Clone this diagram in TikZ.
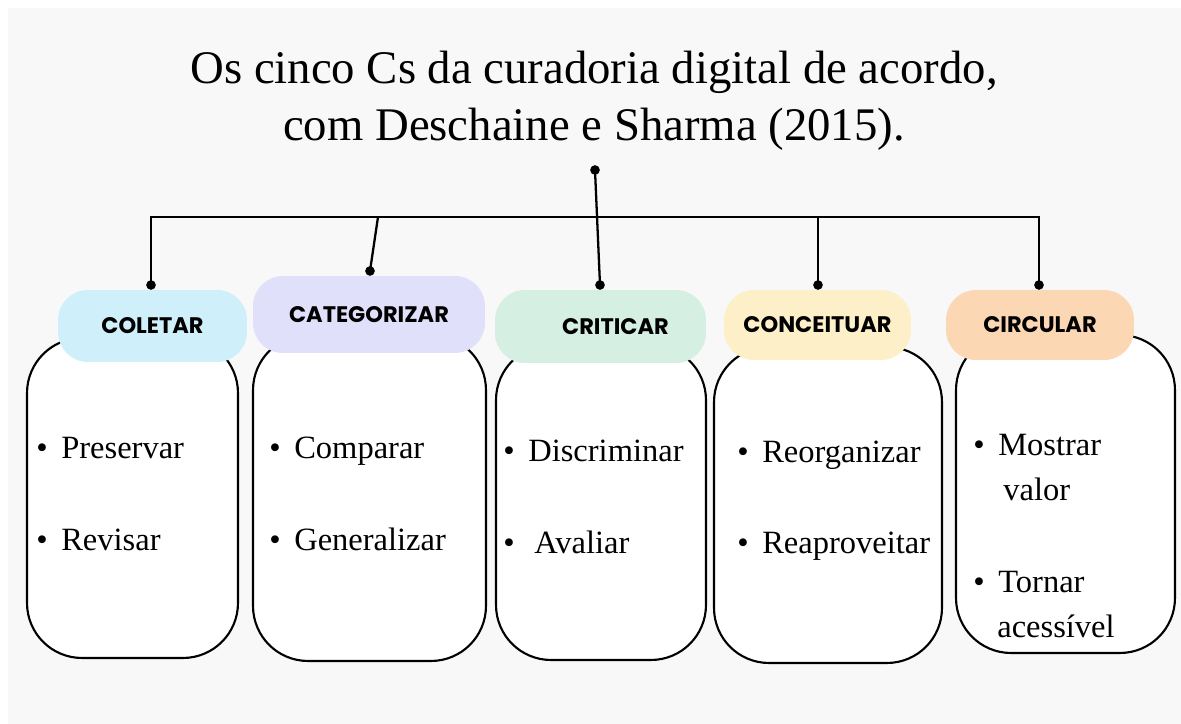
\documentclass[tikz,border=0pt]{standalone}
\usepackage{fontspec}
\setmainfont{Liberation Serif}
\newfontfamily\pillfont{Poppins}
\usetikzlibrary{positioning}
\definecolor{bgpanel}{HTML}{F8F8F8}
\definecolor{cColetar}{HTML}{CFF0FA}
\definecolor{cCategorizar}{HTML}{E1E0FA}
\definecolor{cCriticar}{HTML}{D5EFE3}
\definecolor{cConceituar}{HTML}{FDEFC7}
\definecolor{cCircular}{HTML}{FCD7B4}
\newcommand{\itm}[1][0.5cm]{\makebox[#1][l]{\textbullet}}

\begin{document}
\begin{tikzpicture}[
    x=0.02cm, y=-0.02cm,
    title/.style={
        align=center, inner sep=0,
        font=\fontsize{26.6}{32.3}\selectfont
    },
    pill/.style={
        rectangle, rounded corners=0.6cm, inner sep=0,
        font=\pillfont\bfseries\fontsize{12.8}{15}\selectfont
    },
    card/.style={
        rectangle, rounded corners=1.1cm,
        draw=black, line width=1.2pt, fill=white, inner sep=0
    },
    item/.style={anchor=base west, inner sep=0, font=\fontsize{18.5}{22}\selectfont},
    dot/.style={circle, fill=black, inner sep=0, minimum size=5.5pt},
    link/.style={line width=1.3pt}
]
\useasboundingbox (0,0) rectangle (1181,724);
\fill[white] (0,0) rectangle (1181,724);
\fill[bgpanel] (8,8) rectangle (1181,724);

% Title
\node[title] (title) at (594,101) {Os cinco Cs da curadoria digital de acordo,\\com Deschaine e Sharma (2015).};

% Cards (white boxes with the verbs)
\node[card, minimum width=4.22cm, minimum height=6.40cm] (card1) at (132.5,498) {};
\node[card, minimum width=4.66cm, minimum height=6.52cm] (card2) at (369.5,498) {};
\node[card, minimum width=4.20cm, minimum height=6.30cm] (card3) at (601,502.5) {};
\node[card, minimum width=4.56cm, minimum height=6.32cm] (card4) at (828,505) {};
\node[card, minimum width=4.38cm, minimum height=6.36cm] (card5) at (1065.5,494) {};

% Header pills
\node[pill, fill=cColetar, minimum width=3.78cm, minimum height=1.44cm] (coletar) at (152.5,326) {COLETAR};
\node[pill, fill=cCategorizar, minimum width=4.64cm, minimum height=1.54cm] (categorizar) at (369,314.5) {\raisebox{-0.08cm}{CATEGORIZAR}};
\node[pill, fill=cCriticar, minimum width=4.22cm, minimum height=1.46cm] (criticar) at (600.5,326.5) {\hspace*{0.6cm}CRITICAR};
\node[pill, fill=cConceituar, minimum width=3.74cm, minimum height=1.40cm] (conceituar) at (817.5,325) {CONCEITUAR};
\node[pill, fill=cCircular, minimum width=3.76cm, minimum height=1.40cm] (circular) at (1040,325) {CIRCULAR};

% Items
\node[item] (col1) at (36,458) {\itm Preservar};
\node[item] (col2) at (36,550) {\itm Revisar};
\node[item] (cat1) at (269,458) {\itm Comparar};
\node[item] (cat2) at (269,550) {\itm Generalizar};
\node[item] (cri1) at (503,461) {\itm Discriminar};
\node[item] (cri2) at (503,553) {\itm[0.62cm]Avaliar};
\node[item] (con1) at (737,462) {\itm Reorganizar};
\node[item] (con2) at (737,553) {\itm Reaproveitar};
\node[item] (cir1) at (973,455) {\itm Mostrar};
\node[item] (cir1b) at (1003,500) {valor};
\node[item] (cir2) at (973,592) {\itm Tornar};
\node[item] (cir2b) at (997,637) {acessível};

% Connector tree
\node[dot] (src) at (595,170) {};
\node[dot] (dcol) at (151,285) {};
\node[dot] (dcat) at (370,271) {};
\node[dot] (dcri) at (600,285) {};
\node[dot] (dcon) at (818,285) {};
\node[dot] (dcir) at (1039,285) {};
\coordinate (jcol) at (151,217);
\coordinate (jcat) at (378,217);
\coordinate (jcon) at (818,217);
\coordinate (jcir) at (1039,217);

\draw[link] (dcol.center) -- (jcol) -- (jcir) -- (dcir.center);
\draw[link] (jcat) -- (dcat.center);
\draw[link] (jcon) -- (dcon.center);
\draw[link] (src.center) -- (dcri.center);

\end{tikzpicture}
\end{document}
